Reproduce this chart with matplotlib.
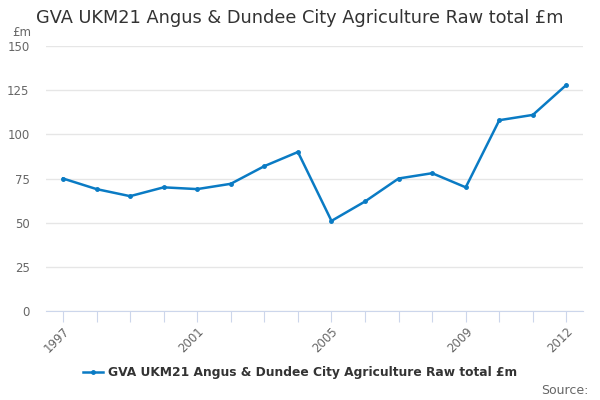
import matplotlib
matplotlib.use("Agg")
import matplotlib.pyplot as plt
from matplotlib.lines import Line2D

years = list(range(1997, 2013))
values = [75, 69, 65, 70, 69, 72, 82, 90, 51, 62, 75, 78, 70, 108, 111, 128]
label_years = [1997, 2001, 2005, 2009, 2012]
y_ticks = [0, 25, 50, 75, 100, 125, 150]
series_name = "GVA UKM21 Angus & Dundee City Agriculture Raw total £m"

line_col = "#0a7bc4"
grid_col = "#e6e6e6"
axis_col = "#ccd6eb"
text_col = "#666666"

fig = plt.figure(figsize=(6, 4), dpi=100)
ax = fig.add_axes([0.077, 0.2225, 0.895, 0.6625])

ax.plot(years, values, color=line_col, lw=1.8, marker="o", ms=2.5, zorder=3)

ax.set_xlim(1996.5, 2012.5)
ax.set_ylim(0, 150)
ax.set_yticks(y_ticks)
ax.set_yticklabels([str(v) for v in y_ticks])
ax.set_xticks(years)
ax.set_xticklabels([str(y) if y in label_years else "" for y in years],
                   rotation=45, ha="right", rotation_mode="anchor")

ax.grid(axis="y", color=grid_col, lw=1)
ax.set_axisbelow(True)
for side in ["top", "right", "left"]:
    ax.spines[side].set_visible(False)
ax.spines["bottom"].set_color(axis_col)
ax.tick_params(axis="x", colors=axis_col, length=8, labelcolor=text_col,
               labelsize=8.5, pad=2)
ax.tick_params(axis="y", length=0, labelcolor=text_col, labelsize=8.5, pad=12)

fig.text(0.5, 0.955, series_name, ha="center", va="center",
         fontsize=12.8, color="#333333")
fig.text(0.02, 0.92, "£m", ha="left", va="center", fontsize=8.5, color=text_col)
fig.text(0.98, 0.025, "Source:", ha="right", va="center", fontsize=9, color=text_col)

handle = Line2D([], [], color=line_col, lw=1.8, marker="o", ms=2.5)
fig.legend([handle], [series_name], loc="center", bbox_to_anchor=(0.5, 0.068),
           frameon=False, prop={"weight": "bold", "size": 8.8},
           labelcolor="#333333", handlelength=1.6, handletextpad=0.4)

fig.savefig("out.png", dpi=100)
